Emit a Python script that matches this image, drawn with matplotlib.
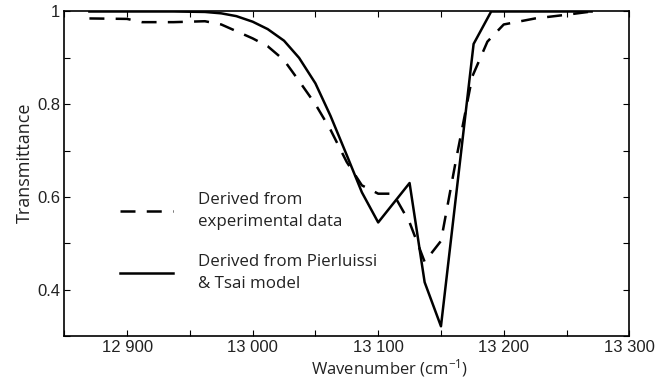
import matplotlib
matplotlib.use("Agg")
import matplotlib.pyplot as plt
from matplotlib.ticker import MultipleLocator, FuncFormatter

plt.rcParams['font.family'] = ['Open Sans', 'DejaVu Sans']
plt.rcParams['mathtext.fontset'] = 'custom'
plt.rcParams['mathtext.rm'] = 'Open Sans'
plt.rcParams['mathtext.it'] = 'Open Sans'

# experimental curve (dashed)
wn_exp = [12870, 12900, 12912, 12937, 12962, 12975, 13000, 13012, 13025, 13037,
          13050, 13062, 13075, 13087, 13100, 13112, 13125, 13137, 13150, 13162,
          13175, 13187, 13200, 13225, 13250, 13270]
t_exp = [0.985, 0.984, 0.977, 0.977, 0.979, 0.972, 0.942, 0.925, 0.895, 0.85,
         0.80, 0.745, 0.675, 0.625, 0.607, 0.607, 0.545, 0.46, 0.505, 0.68,
         0.86, 0.935, 0.972, 0.985, 0.993, 1.0]

# Pierluissi & Tsai model (solid)
wn_mod = [12870, 12900, 12937, 12962, 12975, 12987, 13000, 13012, 13025, 13037,
          13050, 13062, 13075, 13087, 13100, 13125, 13137, 13150, 13176, 13190,
          13270]
t_mod = [1.0, 1.0, 1.0, 0.999, 0.996, 0.99, 0.978, 0.962, 0.937, 0.90,
         0.845, 0.775, 0.69, 0.61, 0.545, 0.63, 0.416, 0.321, 0.93, 1.0,
         1.0]

txt_col = '#222222'

fig = plt.figure(figsize=(6.65, 3.83), dpi=100)
ax = fig.add_axes([0.0967, 0.1227, 0.8496, 0.8473])

ax.plot(wn_exp, t_exp, color='black', lw=1.8, dashes=(6, 4.5),
        label='Derived from\nexperimental data')
ax.plot(wn_mod, t_mod, color='black', lw=1.8,
        label='Derived from Pierluissi\n& Tsai model')

ax.set_xlim(12850, 13300)
ax.set_ylim(0.3, 1.0)
ax.xaxis.set_major_locator(MultipleLocator(100))
ax.xaxis.set_minor_locator(MultipleLocator(50))
ax.yaxis.set_minor_locator(MultipleLocator(0.1))
ax.set_yticks([0.4, 0.6, 0.8, 1.0])
ax.xaxis.set_major_formatter(FuncFormatter(lambda v, p: f'{int(v):,}'.replace(',', ' ')))
ax.yaxis.set_major_formatter(FuncFormatter(lambda v, p: f'{v:g}'))

ax.tick_params(which='both', direction='in', top=True, right=True,
               labelcolor=txt_col, width=0.8, length=4, pad=3,
               labelsize=12, labelfontfamily='Liberation Sans')
for s in ax.spines.values():
    s.set_linewidth(1.2)

ax.set_xlabel(r'Wavenumber (cm$^{-1}$)', fontsize=12, color=txt_col)
ax.set_ylabel('Transmittance', fontsize=13, color=txt_col)
ax.xaxis.set_label_coords(0.576, -0.064)
ax.yaxis.set_label_coords(-0.053, 0.535)

leg = ax.legend(loc='upper left', bbox_to_anchor=(0.099, 0.444), frameon=False,
                fontsize=12.2, handlelength=3.1, handletextpad=1.5,
                labelspacing=1.4, borderpad=0, borderaxespad=0,
                labelcolor=txt_col)
for t in leg.get_texts():
    t.set_linespacing(1.5)

fig.savefig('out.png', dpi=100)
